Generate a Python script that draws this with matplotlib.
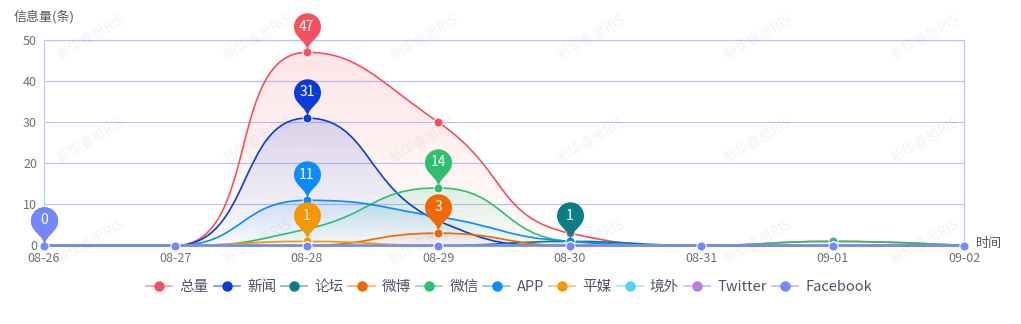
import numpy as np
import matplotlib
matplotlib.use("Agg")
import matplotlib.pyplot as plt
from matplotlib.path import Path
from matplotlib.patches import PathPatch
from matplotlib.lines import Line2D

plt.rcParams['font.family'] = ['Noto Sans CJK SC', 'DejaVu Sans']

# ---- data ----
dates = ['08-26', '08-27', '08-28', '08-29', '08-30', '08-31', '09-01', '09-02']
series_names = ['总量', '新闻', '论坛', '微博', '微信', 'APP', '平媒', '境外', 'Twitter', 'Facebook']
total    = [0, 0, 47, 30, 3, 0, 1, 0]
news     = [0, 0, 31, 6, 0, 0, 0, 0]
forum    = [0, 0, 0, 0, 1, 0, 0, 0]
weibo    = [0, 0, 0, 3, 0, 0, 0, 0]
wechat   = [0, 0, 4, 14, 1, 0, 1, 0]
app      = [0, 0, 11, 7, 1, 0, 0, 0]
press    = [0, 0, 1, 0, 0, 0, 0, 0]
overseas = [0, 0, 0, 0, 0, 0, 0, 0]
twitter  = [0, 0, 0, 0, 0, 0, 0, 0]
facebook = [0, 0, 0, 0, 0, 0, 0, 0]
series_values = [total, news, forum, weibo, wechat, app, press, overseas, twitter, facebook]
colors = ['#f4515e', '#0a3dd8', '#0e7c86', '#f06800', '#2ebf6f',
          '#0a8bff', '#f39800', '#55d0fa', '#b07fe8', '#7388fb']

W, H = 1021, 324
fig = plt.figure(figsize=(W / 100, H / 100), dpi=100)
ax = fig.add_axes([44 / W, (H - 245.5) / H, 920 / W, 205.5 / H])
ax.patch.set_alpha(0)

xs = np.arange(len(dates), dtype=float)
ax.set_xlim(0, len(dates) - 1)
ax.set_ylim(0, 50)

grid_c = '#b4c4fb'
label_c = '#6e7079'
ax.set_yticks(range(0, 51, 10))
ax.set_xticks(xs)
ax.set_xticklabels(dates)
ax.yaxis.grid(True, color=grid_c, lw=0.8)
ax.set_axisbelow(True)
ax.tick_params(axis='both', length=0, labelsize=9, labelcolor=label_c)
ax.tick_params(axis='x', pad=5)
ax.tick_params(axis='y', pad=5)
for s in ax.spines.values():
    s.set_color(grid_c)
    s.set_linewidth(0.8)

fig.text(14 / W, 1 - 17 / H, '信息量(条)', ha='left', va='center', fontsize=9.4, color='#555555')
fig.text(976 / W, 1 - 244 / H, '时间', ha='left', va='center', fontsize=9.4, color='#555555')


def smooth_curve(xv, yv, smooth=0.5):
    """Cubic bezier through the points, monotone-clamped control points (pixel space)."""
    pts = ax.transData.transform(np.column_stack([xv, yv]))
    n = len(pts)
    verts = [tuple(pts[0])]
    codes = [Path.MOVETO]
    cp0 = tuple(pts[0])
    for i in range(1, n):
        x, y = pts[i]
        px, py = pts[i - 1]
        if i < n - 1:
            nx, ny = pts[i + 1]
            vx, vy = nx - px, ny - py
            lp = np.hypot(x - px, y - py)
            ln = np.hypot(nx - x, ny - y)
            ratio = ln / (ln + lp)
            ncx = np.clip(x + vx * smooth * ratio, min(nx, x), max(nx, x))
            ncy = np.clip(y + vy * smooth * ratio, min(ny, y), max(ny, y))
            vx, vy = ncx - x, ncy - y
            c1x = np.clip(x - vx * lp / ln, min(px, x), max(px, x))
            c1y = np.clip(y - vy * lp / ln, min(py, y), max(py, y))
            vx, vy = x - c1x, y - c1y
            ncx, ncy = x + vx * ln / lp, y + vy * ln / lp
        else:
            c1x, c1y = x, y
            ncx, ncy = x, y
        verts += [cp0, (c1x, c1y), (x, y)]
        codes += [Path.CURVE4] * 3
        cp0 = (ncx, ncy)
    return ax.transData.inverted().transform(np.array(verts)), codes


def pin_path():
    w, h = 27.0, 45.0
    r = w / 2
    dy = r * r / (h - r)
    c = h - r - dy
    ang = np.arcsin(dy / r)
    dx = np.cos(ang) * r
    tx, ty = np.sin(ang), np.cos(ang)
    cp1, cp2 = r * 0.6, r * 0.7
    arc = Path.arc(-np.degrees(ang), 180 + np.degrees(ang))
    av = arc.vertices * r + np.array([0, c])
    verts = list(map(tuple, av))
    codes = list(arc.codes)
    verts += [(-dx + tx * cp1, c - dy - ty * cp1), (0, cp2), (0, 0),
              (0, cp2), (dx - tx * cp1, c - dy - ty * cp1), (dx, c - dy), (dx, c - dy)]
    codes += [Path.CURVE4] * 6 + [Path.CLOSEPOLY]
    return Path(np.array(verts), codes), c, c + r


PIN, PIN_C, PIN_TOP = pin_path()
px_to_pt = 72 / 100
pin_ms = PIN_TOP * 2 * px_to_pt

for i, (name, vals, col) in enumerate(zip(series_names, series_values, colors)):
    vals = np.asarray(vals, dtype=float)
    verts, codes = smooth_curve(xs, vals)
    # gradient area
    ymax = vals.max()
    if ymax > 0:
        fverts = np.vstack([verts, [[xs[-1], 0], [xs[0], 0], [xs[0], 0]]])
        fcodes = codes + [Path.LINETO, Path.LINETO, Path.CLOSEPOLY]
        clip = PathPatch(Path(fverts, fcodes), transform=ax.transData, fc='none', ec='none')
        ax.add_patch(clip)
        rgb = matplotlib.colors.to_rgb(col)
        grad = np.zeros((256, 1, 4))
        grad[..., :3] = rgb
        grad[:, 0, 3] = np.linspace(0.15, 0.01, 256)
        im = ax.imshow(grad, extent=(xs[0], xs[-1], 0, ymax), aspect='auto',
                       origin='upper', interpolation='bilinear', zorder=1 + i * 0.01)
        im.set_clip_path(clip)
    ax.add_patch(PathPatch(Path(verts, codes), fc='none', ec=col, lw=1.2,
                           zorder=3 + i * 0.1, clip_on=False))
    ax.plot(xs, vals, 'o', ms=6.5, mfc=col, mec='white', mew=0.7,
            zorder=3 + i * 0.1 + 0.05, clip_on=False)

ax.set_xlim(0, len(dates) - 1)
ax.set_ylim(0, 50)

# max-value pins
for i, (vals, col) in enumerate(zip(series_values, colors)):
    k = int(np.argmax(vals))
    v = vals[k]
    ax.plot([xs[k]], [v], marker=PIN, ms=pin_ms, mfc=col, mec='none',
            ls='none', zorder=10 + i, clip_on=False)
    ax.annotate(str(v), (xs[k], v), xytext=(0, PIN_C * px_to_pt), textcoords='offset points',
                ha='center', va='center', color='white', fontsize=10,
                zorder=10 + i + 0.5, annotation_clip=False)

# legend
handles = [(Line2D([], [], color=c, lw=1.2, alpha=0.55),
            Line2D([], [], color=c, marker='o', ms=6.5, ls='none'))
           for c in colors]
fig.legend(handles, series_names, loc='center', bbox_to_anchor=(509 / W, 1 - 287 / H),
           ncol=10, frameon=False, fontsize=10.5, handlelength=1.8, handletextpad=0.5,
           columnspacing=0.32, labelcolor='#4f5468', borderaxespad=0, borderpad=0)

# background watermark
for row in [57, 160, 262]:
    for k in range(0, 6):
        x0 = 40 + 166.7 * k
        fig.text((x0 + 20) / W, 1 - (row + 3) / H, '新华睿思RIS', rotation=30,
                 rotation_mode='anchor', ha='left', va='baseline', fontsize=10,
                 color='#000000', alpha=0.05, zorder=100)

fig.savefig('out.png', dpi=100)
